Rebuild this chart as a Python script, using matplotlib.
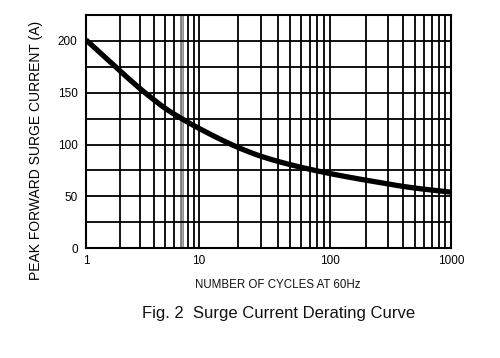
import matplotlib
matplotlib.use("Agg")
import matplotlib.pyplot as plt
from matplotlib.ticker import FixedLocator, NullFormatter
import numpy as np

plt.rcParams["font.family"] = ["Liberation Sans", "DejaVu Sans"]

# surge current derating curve
cycles = [1, 2, 3, 4, 5, 7, 10, 20, 30, 50, 100, 200, 500, 1000]
peak_amps = [201, 171, 154, 143, 135, 125, 115.5, 97, 88.5, 80.5, 72, 65.5, 58, 54]

major_x = [1, 10, 100, 1000]
x_labels = ["1", "10", "100", "1000"]
y_ticks = [0, 50, 100, 150, 200]

# the printed log paper has uneven decades; breakpoints in axis fraction
DEC = [0.0, 1.0, 2.0, 3.0]
DEC_POS = [0.0, 0.310, 0.668, 1.0]


def fwd(x):
    x = np.clip(np.asarray(x, dtype=float), 1e-3, None)
    return np.interp(np.log10(x), DEC, DEC_POS, left=-1, right=2)


def inv(p):
    return 10 ** np.interp(p, DEC_POS, DEC)


def pchip(x, y, xs):
    # monotone cubic through the read points
    x = np.asarray(x, float)
    y = np.asarray(y, float)
    h = np.diff(x)
    d = np.diff(y) / h
    m = np.zeros_like(y)
    m[0], m[-1] = d[0], d[-1]
    for k in range(1, len(x) - 1):
        if d[k - 1] * d[k] > 0:
            w1 = 2 * h[k] + h[k - 1]
            w2 = h[k] + 2 * h[k - 1]
            m[k] = (w1 + w2) / (w1 / d[k - 1] + w2 / d[k])
    i = np.clip(np.searchsorted(x, xs) - 1, 0, len(x) - 2)
    t = (xs - x[i]) / h[i]
    h00 = 2 * t**3 - 3 * t**2 + 1
    h10 = t**3 - 2 * t**2 + t
    h01 = -2 * t**3 + 3 * t**2
    h11 = t**3 - t**2
    return h00 * y[i] + h10 * h[i] * m[i] + h01 * y[i + 1] + h11 * h[i] * m[i + 1]


fig = plt.figure(figsize=(5.0, 3.58), dpi=100)
ax = fig.add_axes([0.172, 0.307, 0.730, 0.651])

# smooth curve, interpolated in the paper's own x coordinates
px = fwd(cycles)
ps = np.linspace(0, 1, 400)
ax.plot(inv(ps), pchip(px, peak_amps, ps), color="black", lw=3.8,
        solid_capstyle="butt", zorder=3)

ax.set_xscale("function", functions=(fwd, inv))
ax.set_xlim(1, 1000)
ax.set_ylim(0, 225)

# grid: every decade sub-division and every 25 A
minor = [m * d for d in (1, 10, 100) for m in range(2, 10)]
for x in minor + [10, 100]:
    if x == 7:
        ax.axvline(x, color="#707070", lw=2.6, zorder=1)
        ax.axvline(x, color="#a8a8a8", lw=1.0, zorder=1)
    else:
        ax.axvline(x, color="black", lw=1.3, zorder=1)
for y in range(25, 225, 25):
    ax.axhline(y, color="black", lw=1.3, zorder=1)

ax.xaxis.set_major_locator(FixedLocator(major_x))
ax.xaxis.set_minor_locator(FixedLocator([]))
ax.set_xticklabels(x_labels)
ax.xaxis.set_minor_formatter(NullFormatter())
ax.set_yticks(y_ticks)
ax.tick_params(which="both", length=0, labelsize=8.5, pad=5)
ax.tick_params(axis="y", pad=6)
for s in ax.spines.values():
    s.set_linewidth(1.5)

ax.set_ylabel("PEAK FORWARD SURGE CURRENT (A)", fontsize=10)
ax.yaxis.set_label_coords(-0.118, 0.42)

fig.text(0.556, 0.204, "NUMBER OF CYCLES AT 60Hz", fontsize=8.3,
         ha="center", va="center", color="#111111")
fig.text(0.558, 0.123, "Fig. 2  Surge Current Derating Curve", fontsize=12,
         ha="center", va="center", color="#111111")

fig.savefig("out.png", dpi=100, facecolor="white")
